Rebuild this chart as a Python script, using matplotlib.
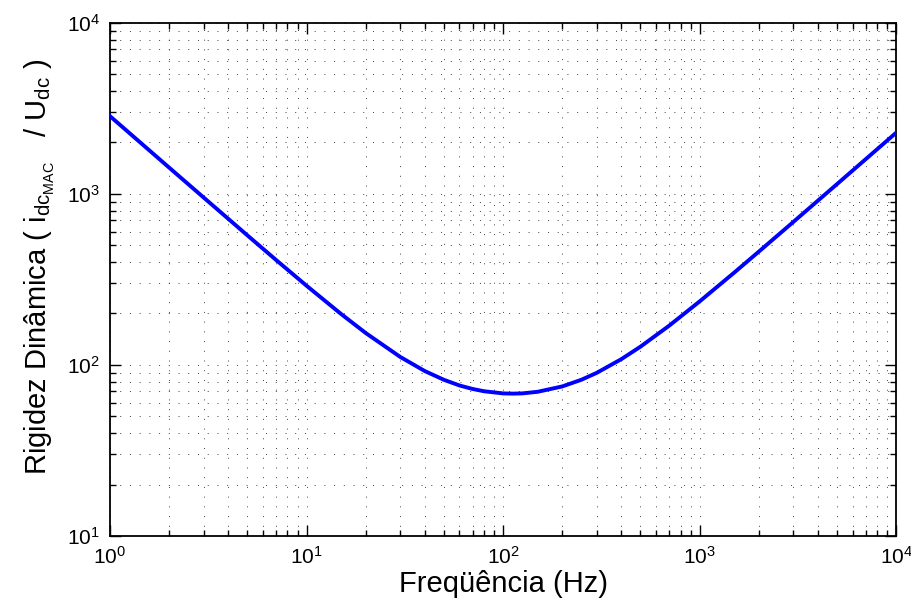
import matplotlib
matplotlib.use("Agg")
import matplotlib.pyplot as plt
from matplotlib.ticker import LogLocator, NullFormatter

plt.rcParams["font.family"] = ["Liberation Sans", "DejaVu Sans"]
plt.rcParams["mathtext.fontset"] = "custom"
plt.rcParams["mathtext.rm"] = "Liberation Sans"
plt.rcParams["mathtext.it"] = "Liberation Sans"
plt.rcParams["mathtext.bf"] = "Liberation Sans:bold"

# values
freq = [1, 1.5, 2, 3, 5, 7, 10, 15, 20, 30, 40, 50, 60, 70, 80, 100, 112,
        125, 150, 200, 250, 300, 400, 500, 700, 1000, 1500, 2000, 3000,
        5000, 7000, 10000]
rigidez = [2851, 1901, 1426, 952, 573, 411.2, 290.8, 198.6, 153.8, 111.4,
           92.1, 81.9, 75.9, 72.4, 70.2, 68.2, 68.0, 68.2, 69.7, 74.9, 81.9,
           90.0, 108.2, 127.9, 169.7, 235.2, 346.8, 459.7, 686.4, 1141.4,
           1597, 2280]

fig = plt.figure(figsize=(9.12, 6.04), dpi=100)
ax = fig.add_axes([0.1206, 0.1126, 0.862, 0.8494])

ax.loglog(freq, rigidez, color=(0, 0, 1), lw=2.8, zorder=3)

ax.set_xlim(1, 1e4)
ax.set_ylim(10, 1e4)
ax.xaxis.set_major_locator(LogLocator(base=10, numticks=10))
ax.yaxis.set_major_locator(LogLocator(base=10, numticks=10))
ax.xaxis.set_minor_locator(LogLocator(base=10, subs=range(2, 10), numticks=20))
ax.yaxis.set_minor_locator(LogLocator(base=10, subs=range(2, 10), numticks=20))
ax.xaxis.set_minor_formatter(NullFormatter())
ax.yaxis.set_minor_formatter(NullFormatter())

ax.grid(True, which="both", color="0.25", linestyle=(0, (1, 9)), lw=0.7)
ax.tick_params(which="both", direction="in", top=True, right=True,
               labelsize=15, width=1)
ax.tick_params(which="major", length=8, pad=7)
ax.tick_params(which="minor", length=4)
for s in ax.spines.values():
    s.set_linewidth(1.3)

ax.set_xlabel("Freqüência (Hz)", fontsize=21, labelpad=2)
ax.set_ylabel(r"Rigidez Dinâmica ( i$_{\mathregular{dc}_{\mathregular{MAC}}}$   / U$_{\mathregular{dc}}$ )",
              fontsize=21)
ax.yaxis.set_label_coords(-0.068, 0.524)

fig.savefig("out.png", dpi=100)
